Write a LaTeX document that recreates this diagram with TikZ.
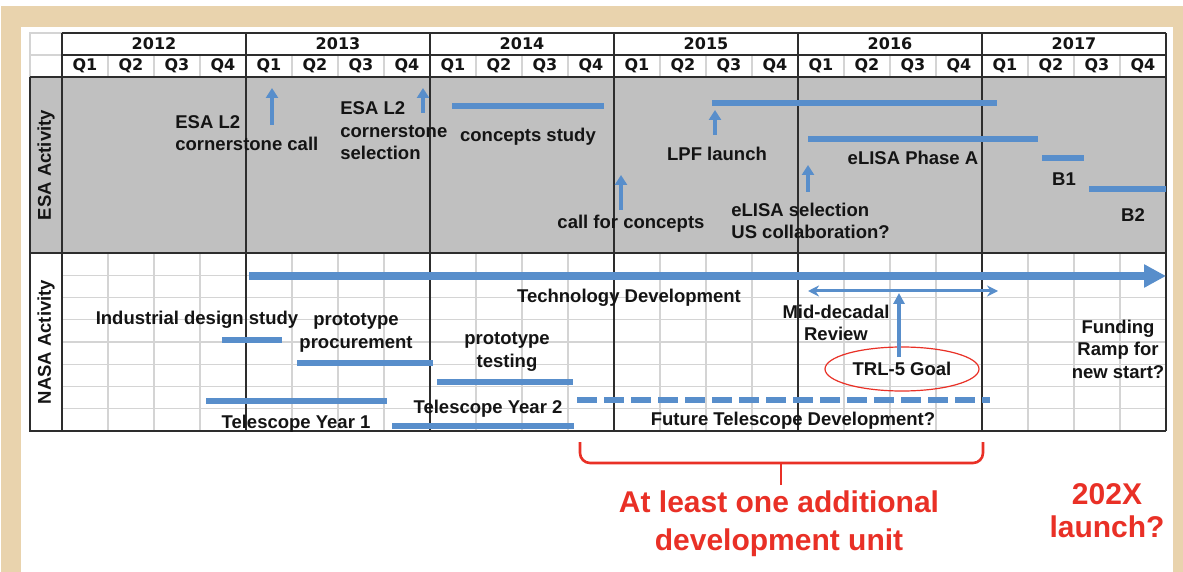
\documentclass[tikz,border=0pt]{standalone}
\usepackage{fontspec}
\setmainfont{Liberation Sans}
\newfontfamily\hdrfont{DejaVu Sans}
\usetikzlibrary{arrows.meta,shapes.geometric}
\definecolor{framebg}{RGB}{233,211,173}
\definecolor{esagray}{RGB}{192,192,192}
\definecolor{gridgray}{RGB}{212,212,212}
\definecolor{linedark}{RGB}{45,45,45}
\definecolor{barblue}{RGB}{88,142,203}
\definecolor{notered}{RGB}{233,48,38}

\begin{document}
\begin{tikzpicture}[x=0.5pt,y=-0.5pt,>=Stealth,txt/.style={font=\bfseries\fontsize{9.25}{11.25}\selectfont, text=black!92, inner sep=0pt, align=center},hdr/.style={font=\hdrfont\bfseries\fontsize{8}{9}\selectfont, text=black!92, inner sep=0pt},bar/.style={line width=3pt, barblue},milestone/.style={-{Triangle[length=5pt,width=6pt]}, line width=2pt, barblue},thinline/.style={gridgray, line width=0.6pt},thickline/.style={linedark, line width=0.8pt},note/.style={font=\bfseries\fontsize{15}{19}\selectfont, text=notered, inner sep=0pt, align=center}]
\path[use as bounding box] (0,0) rectangle (1183,572);
% frame and panel
\fill[white] (0,0) rectangle (1183,572);
\fill[framebg] (1,6) rectangle (1183,572);
\fill[white] (21,27) rectangle (1173,572);
\fill[esagray] (30,77) rectangle (1166,253);
% grid
\foreach \q in {1,...,23} \draw[thinline] (62+46*\q,55) -- (62+46*\q,77) (62+46*\q,253) -- (62+46*\q,431);
\foreach \r in {1,...,7} \draw[thinline] (62,253+22.25*\r) -- (1166,253+22.25*\r);
\draw[thinline] (30,33) rectangle (62,77) (30,55) -- (62,55);
\foreach \yr in {0,...,6} \draw[thickline] (62+184*\yr,33) -- (62+184*\yr,431);
\draw[thickline] (62,33) -- (1166,33) (62,55) -- (1166,55) (30,77) -- (1166,77) (30,253) -- (1166,253) (30,77) -- (30,431) -- (1166,431);
% header
\foreach \yr [count=\i from 0] in {2012,...,2017} \node[hdr] (y\yr) at (154+184*\i,44) {\yr};
\foreach \yr in {0,...,5} \foreach \q in {1,...,4} \node[hdr] (q\yr\q) at (39+184*\yr+46*\q,66) {Q\q};
\node[txt, rotate=90] (esa) at (46,165) {ESA Activity};
\node[txt, rotate=90] (nasa) at (46,342) {NASA Activity};
% ESA activity
\draw[milestone] (272,125) -- (272,88);
\node[txt, anchor=west, align=left] (l2call) at (175,133) {ESA L2\\cornerstone call};
\draw[milestone] (423,113) -- (423,88);
\node[txt, anchor=west, align=left] (l2sel) at (340,131) {ESA L2\\cornerstone\\selection};
\draw[bar] (452,106) -- (604,106);
\node[txt] (study) at (528,137) {concepts study};
\draw[milestone] (621,210) -- (621,175);
\node[txt] (callc) at (631,224) {call for concepts};
\draw[bar] (712,103) -- (997,103);
\draw[milestone] (715,135) -- (715,110);
\node[txt] (lpf) at (717,154) {LPF launch};
\draw[bar] (808,139) -- (1038,139);
\node[txt] (phasea) at (913,158) {eLISA Phase A};
\draw[bar] (1042,158) -- (1084,158);
\node[txt] (b1) at (1064,179) {B1};
\draw[bar] (1089,189) -- (1166,189);
\node[txt] (b2) at (1133,215) {B2};
\draw[milestone] (808,192) -- (808,165);
\node[txt, anchor=west, align=left] (elisa) at (731,221) {eLISA selection\\US collaboration?};
% NASA activity
\draw[line width=4pt, barblue, -{Triangle[length=11pt,width=11pt]}] (249,276) -- (1166,276);
\node[txt] (techdev) at (629,298) {Technology Development};
\draw[line width=1.5pt, barblue, {Stealth[length=5.5pt,width=5.5pt]}-{Stealth[length=5.5pt,width=5.5pt]}] (808,291) -- (998,291);
\node[txt] (review) at (836,323) {Mid-decadal\\Review};
\node[txt, ellipse, draw=notered, line width=0.6pt, minimum width=77pt, minimum height=22pt] (trl) at (902,369) {TRL-5 Goal};
\draw[line width=1.8pt, barblue, -{Triangle[length=5.5pt,width=5.5pt]}] (899,357) -- (899,293);
\node[txt] (funding) at (1118,349) {Funding\\Ramp for\\new start?};
\node[txt] (industrial) at (197,320) {Industrial design study};
\draw[bar] (222,340) -- (282,340);
\node[txt] (procure) at (356,333) {prototype\\procurement};
\draw[bar] (297,363) -- (433,363);
\node[txt] (testing) at (507,352) {prototype\\testing};
\draw[bar] (437,382) -- (573,382);
\draw[bar] (206,401) -- (387,401);
\node[txt] (tel1) at (296,424) {Telescope Year 1};
\node[txt] (tel2) at (488,409) {Telescope Year 2};
\draw[bar] (392,426) -- (574,426);
\draw[bar, dash pattern=on 10pt off 3.5pt] (577,400) -- (990,400);
\node[txt] (future) at (793,421) {Future Telescope Development?};
% outlook
\draw[notered, line width=1.3pt, rounded corners=5pt] (580,442) -- (580,463) -- (983,463) -- (983,442);
\draw[notered, line width=1.3pt] (781,463) -- (781,485);
\node[note] (unit) at (779,524) {At least one additional\\development unit};
\node[note, font=\bfseries\fontsize{15}{16.5}\selectfont] (launch) at (1107,511) {202X\\launch?};
\end{tikzpicture}
\end{document}
